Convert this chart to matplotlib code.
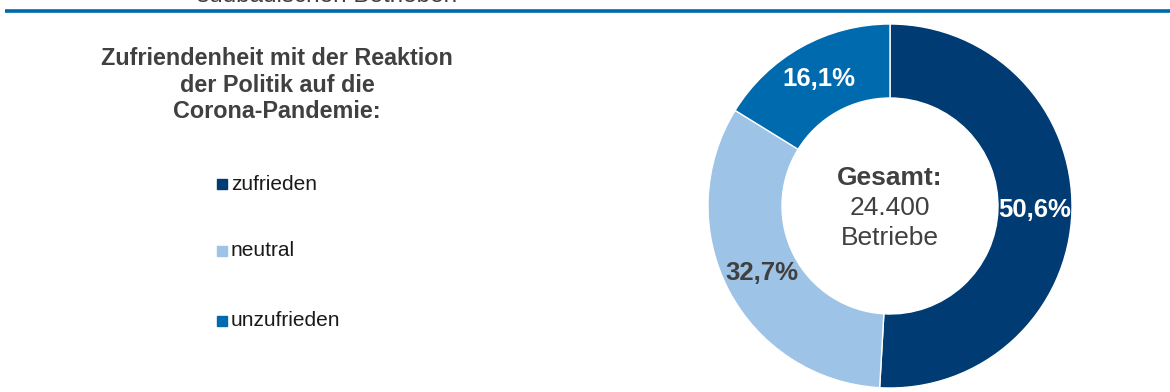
import matplotlib
matplotlib.use("Agg")
import matplotlib.pyplot as plt
from matplotlib.lines import Line2D
from matplotlib.patches import Rectangle
import numpy as np

plt.rcParams['font.family'] = ['Liberation Sans', 'DejaVu Sans']

categories = ["zufrieden", "neutral", "unzufrieden"]
values = [50.6, 32.7, 16.1]
value_labels = ["50,6%", "32,7%", "16,1%"]
colors = ["#003B73", "#9DC3E6", "#006AAE"]
label_colors = ["white", "#404040", "white"]
title_lines = "Zufriendenheit mit der Reaktion\nder Politik auf die\nCorona-Pandemie:"
center_bold = "Gesamt:"
center_text = "24.400\nBetriebe"
top_cut_text = "südbadischen Betrieben"

W, H = 1170, 392
fig = plt.figure(figsize=(W / 100, H / 100), dpi=100)

def fx(px):
    return px / W

def fy(py):
    return 1 - py / H

# top clipped text and blue rule
fig.text(fx(197), fy(1.5), top_cut_text, fontsize=17.5, color="#404040", va="baseline", ha="left")
fig.add_artist(Line2D([fx(5), 1.0], [fy(10.5), fy(10.5)], color="#0068AE", lw=2.6,
                      transform=fig.transFigure, solid_capstyle="butt"))

# title
fig.text(fx(277), fy(85), title_lines, fontsize=16.8, fontweight="bold", color="#404040",
         ha="center", va="center", linespacing=1.17)

# legend
leg_y = [184, 251, 321]
for cat, col, y in zip(categories, colors, leg_y):
    fig.add_artist(Rectangle((fx(217), fy(y + 5)), fx(10), 10 / H, color=col,
                             transform=fig.transFigure))
    fig.text(fx(231), fy(y), cat, fontsize=15, color="#1a1a1a", ha="left", va="center")

# donut
cx, cy, R = 890, 206, 182
ax = fig.add_axes([fx(cx - R), fy(cy + R), 2 * R / W, 2 * R / H])
r_in = 108 / R
wedges, _ = ax.pie(values, colors=colors, startangle=90, counterclock=False,
                   radius=1.0,
                   wedgeprops=dict(width=1 - r_in, edgecolor="white", linewidth=1))
ax.set_xlim(-1, 1)
ax.set_ylim(-1, 1)
ax.set_aspect("equal")
ax.axis("off")

rmid = (1 + r_in) / 2
for w, lab, lc in zip(wedges, value_labels, label_colors):
    ang = np.deg2rad((w.theta1 + w.theta2) / 2)
    ax.text(rmid * np.cos(ang), rmid * np.sin(ang), lab, ha="center", va="center",
            fontsize=18.5, fontweight="bold", color=lc)

ax.text(0, 28 / R, center_bold, ha="center", va="center", fontsize=19,
        fontweight="bold", color="#404040")
ax.text(0, -17 / R, center_text, ha="center", va="center", fontsize=19,
        color="#404040", linespacing=1.3)

fig.savefig("out.png", dpi=100)
